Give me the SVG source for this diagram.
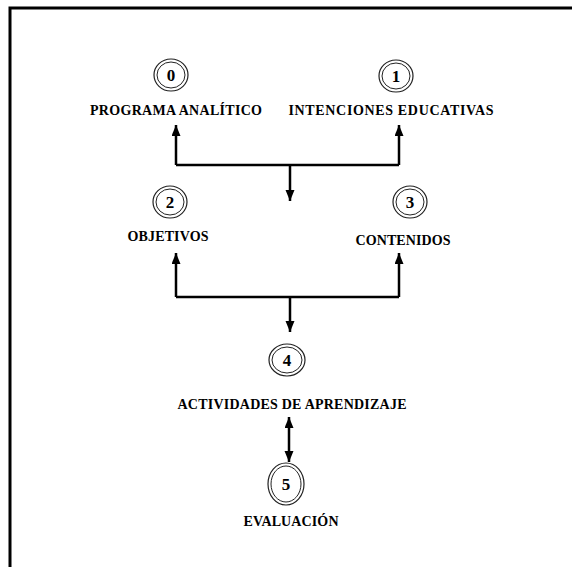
<svg xmlns="http://www.w3.org/2000/svg" width="572" height="567" viewBox="0 0 572 567">
<style>
.outer{fill:#fff;stroke:#222;stroke-width:1.2}
.inner{fill:none;stroke:#222;stroke-width:1}
.num{font-weight:bold;font-size:17px;fill:#000;text-anchor:middle}
.lbl{font-weight:bold;font-size:14px;fill:#000;text-anchor:middle}
.con{fill:none;stroke:#000;stroke-width:2.5}
</style>
<defs>
<marker id="ah" markerUnits="userSpaceOnUse" markerWidth="12" markerHeight="10" refX="11" refY="4.5" orient="auto">
<path d="M0,0 L11,4.5 L0,9 z" fill="#000"/>
</marker>
</defs>
<rect x="10" y="8" width="620" height="620" fill="#fff" stroke="#000" stroke-width="3"/>
<g id="connectors">
<path class="con" d="M176,165 H399"/>
<path class="con" d="M176,165 V125" marker-end="url(#ah)"/>
<path class="con" d="M399,165 V125" marker-end="url(#ah)"/>
<path class="con" d="M290,165 V201" marker-end="url(#ah)"/>
<path class="con" d="M176,297 H399"/>
<path class="con" d="M176,297 V253" marker-end="url(#ah)"/>
<path class="con" d="M399,297 V253" marker-end="url(#ah)"/>
<path class="con" d="M290,297 V332" marker-end="url(#ah)"/>
<path class="con" d="M289,440 V417" marker-end="url(#ah)"/>
<path class="con" d="M289,440 V462" marker-end="url(#ah)"/>
</g>
<g font-family="'Liberation Serif', 'Times New Roman', 'DejaVu Serif', serif">
<g id="node0">
<ellipse class="outer" cx="171" cy="75" rx="17" ry="16"/>
<ellipse class="inner" cx="171" cy="75" rx="14" ry="13"/>
<text class="num" x="171" y="81">0</text>
<text class="lbl" x="176" y="115" textLength="172" lengthAdjust="spacing">PROGRAMA ANALÍTICO</text>
</g>
<g id="node1">
<ellipse class="outer" cx="396" cy="76" rx="17" ry="16"/>
<ellipse class="inner" cx="396" cy="76" rx="14" ry="13"/>
<text class="num" x="396" y="82">1</text>
<text class="lbl" x="391" y="115" textLength="205" lengthAdjust="spacing">INTENCIONES EDUCATIVAS</text>
</g>
<g id="node2">
<ellipse class="outer" cx="170" cy="202" rx="17" ry="16"/>
<ellipse class="inner" cx="170" cy="202" rx="14" ry="13"/>
<text class="num" x="170" y="208">2</text>
<text class="lbl" x="168" y="241" textLength="81" lengthAdjust="spacing">OBJETIVOS</text>
</g>
<g id="node3">
<ellipse class="outer" cx="410" cy="202" rx="17" ry="16"/>
<ellipse class="inner" cx="410" cy="202" rx="14" ry="13"/>
<text class="num" x="410" y="208">3</text>
<text class="lbl" x="403" y="245" textLength="95" lengthAdjust="spacing">CONTENIDOS</text>
</g>
<g id="node4">
<ellipse class="outer" cx="287" cy="360" rx="18" ry="16"/>
<ellipse class="inner" cx="287" cy="360" rx="15" ry="13"/>
<text class="num" x="287" y="366">4</text>
<text class="lbl" x="292" y="409" textLength="229" lengthAdjust="spacing">ACTIVIDADES DE APRENDIZAJE</text>
</g>
<g id="node5">
<ellipse class="outer" cx="286" cy="484" rx="18" ry="21"/>
<ellipse class="inner" cx="286" cy="484" rx="15" ry="18"/>
<text class="num" x="286" y="490">5</text>
<text class="lbl" x="291" y="526" textLength="95" lengthAdjust="spacing">EVALUACIÓN</text>
</g>
</g>
</svg>
